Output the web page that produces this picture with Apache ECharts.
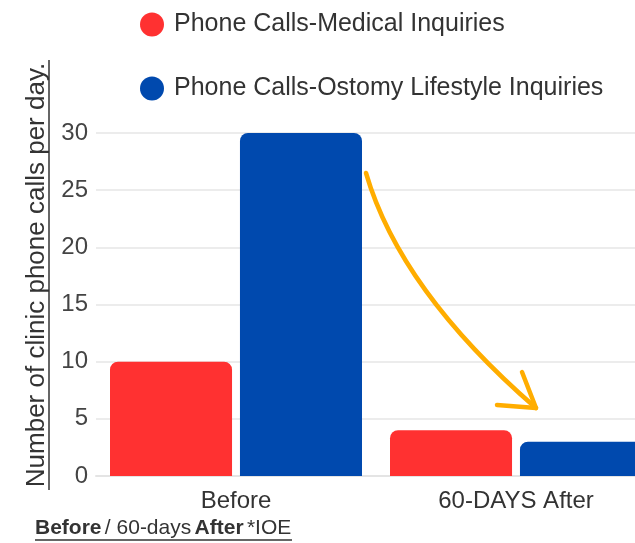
<!DOCTYPE html>
<html><head><meta charset="utf-8">
<script src="https://cdn.jsdelivr.net/npm/echarts@6/dist/echarts.min.js"></script>
<style>html,body{margin:0;padding:0;background:#fff}#c{width:635px;height:543px}</style>
</head><body><div id="c"></div>
<script>
const categories = ['Before', '60-DAYS After'];
const medical = [10, 4];
const lifestyle = [30, 3];
const seriesNames = ['Phone Calls-Medical Inquiries', 'Phone Calls-Ostomy Lifestyle Inquiries'];
const yTicks = [0, 5, 10, 15, 20, 25, 30];
const yName = 'Number of clinic phone calls per day.';

const FONT = '"Liberation Sans", Arial, sans-serif';
const RED = '#FF3131', BLUE = '#0049AE';
const chart = echarts.init(document.getElementById('c'), null, {renderer: 'canvas'});
chart.setOption({
  animation: false,
  textStyle: {fontFamily: FONT},
  legend: {
    orient: 'vertical', left: 135, top: 7, itemGap: 39,
    icon: 'circle', itemWidth: 24, itemHeight: 24,
    textStyle: {fontSize: 25, color: '#333', fontFamily: FONT, padding: [0, 0, 0, 5]},
    data: seriesNames
  },
  grid: {left: 96, top: 133, width: 560, height: 343, containLabel: false, outerBoundsMode: 'none'},
  xAxis: {
    type: 'category', data: categories,
    axisLine: {lineStyle: {color: '#e4e4e4', width: 2}},
    axisTick: {show: false},
    axisLabel: {fontSize: 24, color: '#333', margin: 13, fontFamily: FONT}
  },
  yAxis: {
    type: 'value', min: yTicks[0], max: yTicks[yTicks.length - 1], interval: 5,
    axisLine: {show: false}, axisTick: {show: false},
    axisLabel: {fontSize: 24, color: '#444', margin: 8, fontFamily: FONT},
    splitLine: {lineStyle: {color: '#ececec', width: 2}}
  },
  series: [
    {name: seriesNames[0], type: 'bar', data: medical, barGap: '6.5%', barCategoryGap: '10%',
     itemStyle: {color: RED, borderRadius: [8, 8, 0, 0]}},
    {name: seriesNames[1], type: 'bar', data: lifestyle,
     itemStyle: {color: BLUE, borderRadius: [8, 8, 0, 0]}}
  ]
});

function drawExtras() {
  const g = [];
  // rotated y-axis title with underline
  g.push({type: 'text', x: 37, y: 275, rotation: Math.PI / 2,
    style: {text: yName, font: '26px ' + FONT, fill: '#333', align: 'center', verticalAlign: 'middle'}});
  g.push({type: 'line', shape: {x1: 49, y1: 490, x2: 49, y2: 60}, style: {stroke: '#333', lineWidth: 1.5}});
  // bottom caption
  g.push({type: 'text', x: 35, y: 528, style: {
    text: '{b|Before} {n|/ 60-days} {b|After} {n|*IOE}',
    rich: {b: {font: 'bold 21px ' + FONT, fill: '#333'}, n: {font: '21px ' + FONT, fill: '#333'}},
    verticalAlign: 'middle'}});
  g.push({type: 'line', shape: {x1: 35, y1: 540, x2: 292, y2: 540}, style: {stroke: '#333', lineWidth: 1.5}});
  // arrow annotation
  const p0 = [366, 173], tip = [536, 408];
  g.push({type: 'bezierCurve', shape: {x1: p0[0], y1: p0[1], x2: tip[0], y2: tip[1], cpx1: 400, cpy1: 290},
    style: {stroke: '#FFAD00', lineWidth: 4.5, fill: null, lineCap: 'round'}});
  g.push({type: 'polyline', shape: {points: [[497, 405], tip, [522, 372]]},
    style: {stroke: '#FFAD00', lineWidth: 4.5, fill: null, lineCap: 'round', lineJoin: 'round'}});
  chart.setOption({graphic: g});
}
drawExtras();
</script></body></html>
